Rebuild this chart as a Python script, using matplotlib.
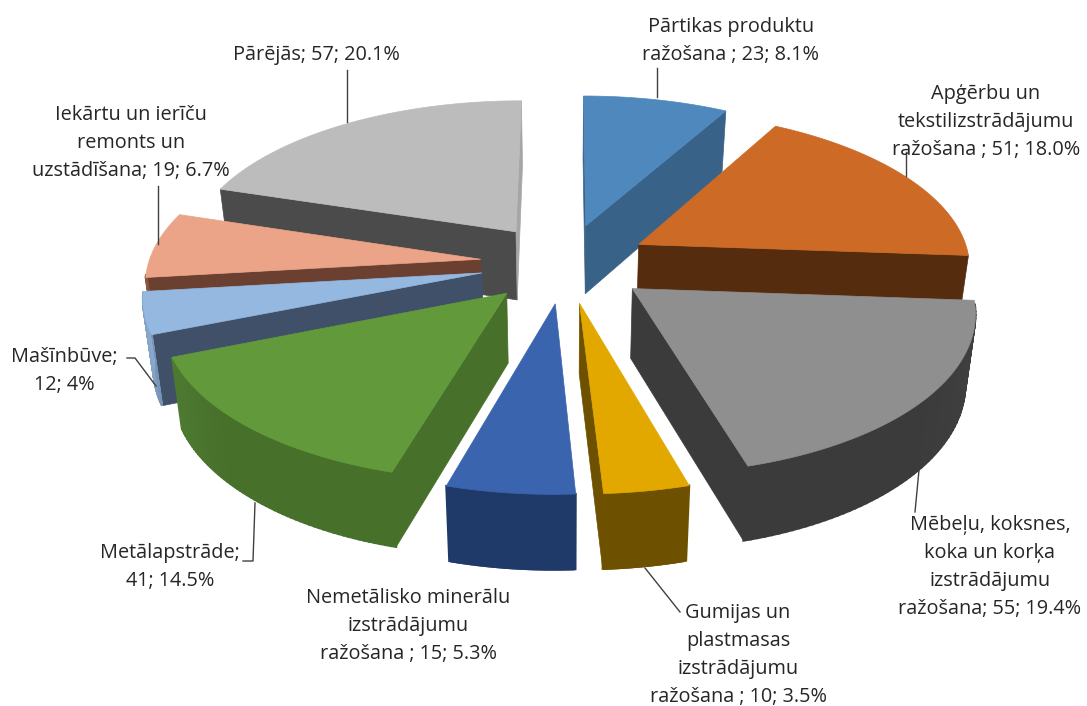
import numpy as np
import matplotlib
matplotlib.use('agg')
import matplotlib.pyplot as plt
from matplotlib.colors import to_rgb

# data, clockwise from the top
names = ['Pārtikas', 'Apģērbu', 'Mēbeļu', 'Gumijas', 'Nemetālisko', 'Metālapstrāde', 'Mašīnbūve', 'Iekārtu', 'Pārējās']
values = [23, 51, 55, 10, 15, 41, 12, 19, 57]
labels = ['Pārtikas produktu\nražošana ; 23; 8.1%',
          'Apģērbu un\ntekstilizstrādājumu\nražošana ; 51; 18.0%',
          'Mēbeļu, koksnes,\nkoka un korķa\nizstrādājumu\nražošana; 55; 19.4%',
          'Gumijas un\nplastmasas\nizstrādājumu\nražošana ; 10; 3.5%',
          'Nemetālisko minerālu\nizstrādājumu\nražošana ; 15; 5.3%',
          'Metālapstrāde;\n41; 14.5%',
          'Mašīnbūve;\n12; 4%',
          'Iekārtu un ierīču\nremonts un\nuzstādīšana; 19; 6.7%',
          'Pārējās; 57; 20.1%']
top_colors = ['#4f88bd', '#cc6a26', '#8f8f8f', '#e2a800', '#3a64ae', '#629a3b', '#95b8e0', '#eba487', '#bcbcbc']
wall_colors = ['#396288', '#562c0e', '#3b3b3b', '#6d5000', '#1f3a68', '#47702b', '#3f5068', '#6b4030', '#4b4b4b']
wall_light = ['#4a7ba8', '#7a4018', '#404040', '#7d5c05', '#2a4b82', '#4f7d33', '#8aaad0', '#8a5540', '#5a5a5a']

label_pos = [(731, 41), (986, 122), (990, 567), (738, 655), (408, 626), (170, 567), (64, 371), (131, 143), (316, 55)]
leaders = [[(657, 68), (657, 97)],
           [(906, 152), (906, 176)],
           [(915, 512), (919, 470)],
           [(680, 612), (645, 568)],
           [],
           [(243, 561), (253, 561), (255, 503)],
           [(127, 358), (135, 358), (156, 386)],
           [(158, 186), (158, 244)],
           [(347, 70), (347, 122)]]

# fake 3d geometry, in pixels
cx, cy = 565, 263
R, k, p = 332, 0.467, 0.127
gap = 85
h = 69


def project(x, y, z=0):
    s = 1 / (1 + p * y / R)
    shrink = 1 - 0.025 * z / h
    return cx + x * s * shrink, cy - k * y * s + z * s ** 0.5


fig = plt.figure(figsize=(10.87, 7.06), dpi=100)
ax = fig.add_axes([0, 0, 1, 1])
ax.set_xlim(0, 1087)
ax.set_ylim(706, 0)
ax.axis('off')

total = sum(values)
edges = np.cumsum([0] + values) / total * 2 * np.pi
mids = (edges[:-1] + edges[1:]) / 2

for i in np.argsort(-np.cos(mids)):
    t = np.linspace(edges[i], edges[i + 1], 60)
    ox, oy = gap * np.sin(mids[i]), gap * np.cos(mids[i])
    ax_pts = [project(ox, oy)] + [project(ox + R * np.sin(a), oy + R * np.cos(a)) for a in t]
    ax_bot = [project(ox, oy, h)] + [project(ox + R * np.sin(a), oy + R * np.cos(a), h) for a in t]
    z = 1 + 10 * (1 - np.cos(mids[i]))

    # flat cut faces, only the ones turned to the viewer
    for a, b in [(0, 1), (0, len(t))]:
        q = np.array([ax_pts[a], ax_pts[b], ax_bot[b], ax_bot[a]])
        area = np.dot(q[:, 0], np.roll(q[:, 1], -1)) - np.dot(q[:, 1], np.roll(q[:, 0], -1))
        if (a, b) == (0, 1):
            area = -area
        if area > 0:
            col = wall_colors[i]
            # the last slice ends at the top, that face is lit in the original
            if i == len(values) - 1 and b == len(t):
                col = '#a6a6a6'
            ax.fill(q[:, 0], q[:, 1], color=col, lw=0.5, zorder=z)

    # round outer wall with a soft shading
    c0, c1 = np.array(to_rgb(wall_light[i])), np.array(to_rgb(wall_colors[i]))
    for j in range(1, len(t)):
        if np.cos(t[j]) > -0.1 and np.cos(t[j - 1]) > -0.1:
            continue
        f = min(1, (1 - abs(np.sin(t[j]))) * 4)
        q = np.array([ax_pts[j], ax_pts[j + 1], ax_bot[j + 1], ax_bot[j]])
        col = c0 + (c1 - c0) * f
        ax.fill(q[:, 0], q[:, 1], fc=col, ec=col, lw=1.5, zorder=z + 0.01)

    top = np.array(ax_pts)
    ax.fill(top[:, 0], top[:, 1], color=top_colors[i], lw=0.5, zorder=z + 0.02)

for txt, pos, line in zip(labels, label_pos, leaders):
    ax.text(pos[0], pos[1], txt, ha='center', va='center', fontsize=14.3, color='#262626',
            family='Open Sans', linespacing=1.55, zorder=50)
    if line:
        ax.plot([q[0] for q in line], [q[1] for q in line], color='#404040', lw=1, zorder=40)

fig.savefig('out.png', dpi=100)
